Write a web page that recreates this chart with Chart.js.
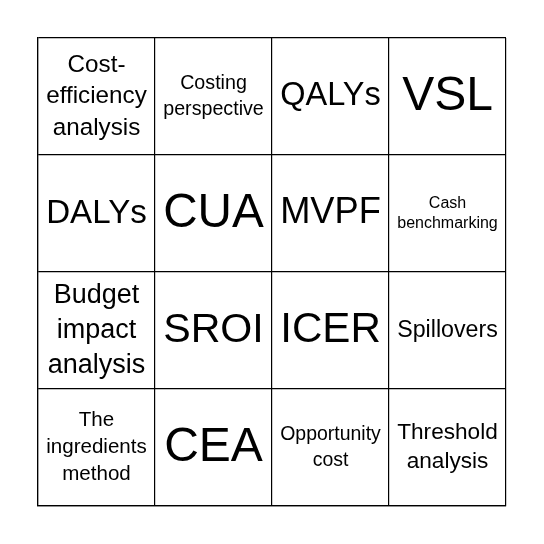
<!DOCTYPE html>
<html>
<head>
<meta charset="utf-8">
<script src="https://cdn.jsdelivr.net/npm/chart.js@4"></script>
<style>
  html, body { margin: 0; padding: 0; background: #fff; }
  #wrap { width: 544px; height: 544px; }
</style>
</head>
<body>
<div id="wrap"><canvas id="board"></canvas></div>
<script>
// Bingo card content, row by row (top to bottom), "\n" marks a line break
const rowsCount = 4;
const colsCount = 4;
const cellLabels = [
  'Cost-\nefficiency\nanalysis', 'Costing\nperspective', 'QALYs', 'VSL',
  'DALYs', 'CUA', 'MVPF', 'Cash\nbenchmarking',
  'Budget\nimpact\nanalysis', 'SROI', 'ICER', 'Spillovers',
  'The\ningredients\nmethod', 'CEA', 'Opportunity\ncost', 'Threshold\nanalysis'
];

const FONT = 'Arial, "Liberation Sans", sans-serif';

const cellText = {
  id: 'cellText',
  afterDraw(chart) {
    const { ctx, scales: { x, y } } = chart;
    const cw = Math.abs(x.getPixelForValue(1) - x.getPixelForValue(0));
    const ch = Math.abs(y.getPixelForValue(1) - y.getPixelForValue(0));
    ctx.save();
    ctx.fillStyle = '#000';
    ctx.textAlign = 'center';
    ctx.textBaseline = 'middle';
    cellLabels.forEach((label, i) => {
      const r = Math.floor(i / colsCount);
      const c = i % colsCount;
      const cx = x.getPixelForValue(c + 0.5);
      const cy = y.getPixelForValue(rowsCount - r - 0.5);
      const lines = label.split('\n');
      // fit text into the cell
      let size = 48;
      ctx.font = '100px ' + FONT;
      const widest = Math.max(...lines.map(l => ctx.measureText(l).width));
      size = Math.min(size, 100 * (cw * 0.86) / widest);
      size = Math.min(size, (ch * 0.9) / (lines.length * 1.3));
      ctx.font = size + 'px ' + FONT;
      const lh = size * 1.3;
      lines.forEach((l, k) => {
        ctx.fillText(l, cx, cy + (k - (lines.length - 1) / 2) * lh);
      });
    });
    ctx.restore();
  }
};

new Chart(document.getElementById('board'), {
  type: 'scatter',
  data: { datasets: [{ data: [] }] },
  options: {
    responsive: true,
    maintainAspectRatio: false,
    animation: false,
    layout: { padding: { left: 38, right: 38, top: 38, bottom: 38 } },
    plugins: { legend: { display: false }, tooltip: { enabled: false } },
    scales: {
      x: {
        min: 0, max: colsCount,
        ticks: { display: false, stepSize: 1 },
        grid: { color: '#000', lineWidth: 1.2, drawTicks: false },
        border: { color: '#000', width: 1.2 }
      },
      y: {
        min: 0, max: rowsCount,
        ticks: { display: false, stepSize: 1 },
        grid: { color: '#000', lineWidth: 1.2, drawTicks: false },
        border: { color: '#000', width: 1.2 }
      }
    }
  },
  plugins: [cellText]
});
</script>
</body>
</html>
